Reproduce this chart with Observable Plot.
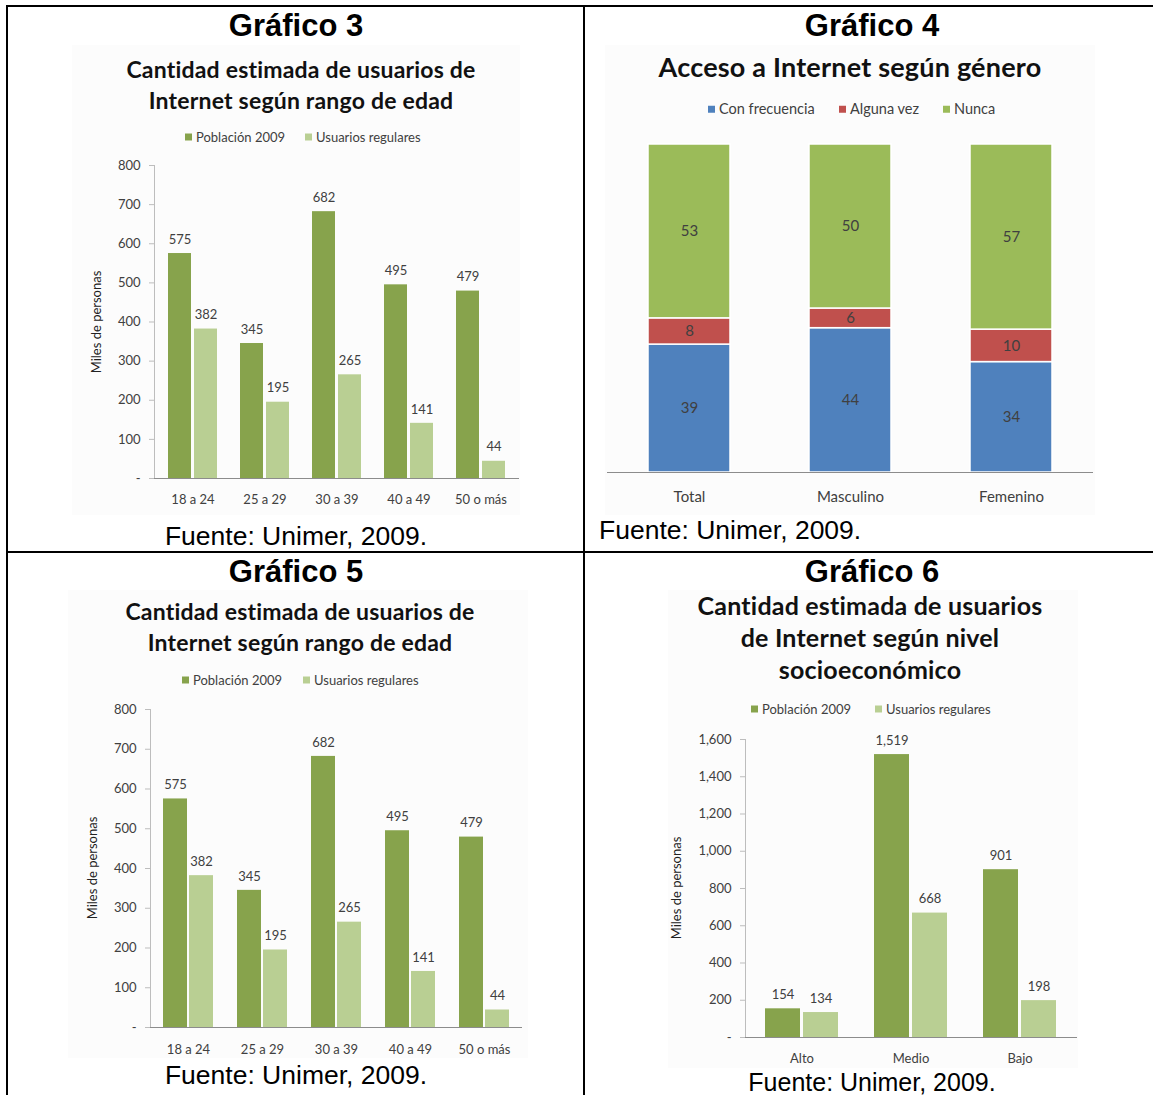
<!DOCTYPE html>
<html><head><meta charset="utf-8">
<script src="https://cdn.jsdelivr.net/npm/d3@7"></script>
<script src="https://cdn.jsdelivr.net/npm/@observablehq/plot@0.6"></script>
<style>
body{margin:0;background:#fff}
#root{position:relative;width:1153px;height:1095px;overflow:hidden;background:#fff}
.abs{position:absolute;white-space:nowrap;line-height:1}
.chart{position:absolute}
.chart svg{display:block;overflow:visible}
.chart svg text{fill:#404040}
.sq{display:inline-block;width:7px;height:7px;margin-right:4px;vertical-align:middle;position:relative;top:-1px}
</style></head><body><div id="root"></div>
<script>
// ---------- DATA ----------
const edades = ["18 a 24", "25 a 29", "30 a 39", "40 a 49", "50 o más"];
const poblacionEdad = [575, 345, 682, 495, 479];
const usuariosEdad = [382, 195, 265, 141, 44];
const ticksEdad = [0, 100, 200, 300, 400, 500, 600, 700, 800];

const generos = ["Total", "Masculino", "Femenino"];
const series4 = ["Con frecuencia", "Alguna vez", "Nunca"];
const conFrecuencia = [39, 44, 34];
const algunaVez = [8, 6, 10];
const nunca = [53, 50, 57];

const niveles = ["Alto", "Medio", "Bajo"];
const poblacionNivel = [154, 1519, 901];
const usuariosNivel = [134, 668, 198];
const ticksNivel = [0, 200, 400, 600, 800, 1000, 1200, 1400, 1600];

const seriesGrupo = ["Población 2009", "Usuarios regulares"];

// ---------- STYLE ----------
const DARK = "#87a34c", LIGHT = "#b9cf93";
const BLUE = "#4f81bd", RED = "#c0504d", GREEN = "#9bbb59";
const BG = "#fcfcfc";
const ARIAL = "'Liberation Sans', Arial, sans-serif";
const root = document.getElementById("root");
const fmtY = d => d === 0 ? "-" : d3.format(",")(d);

function box(x, y, w, h, bg) {
  const d = document.createElement("div");
  d.className = "abs";
  Object.assign(d.style, {left: x + "px", top: y + "px", width: w + "px", height: h + "px", background: bg});
  root.appendChild(d);
}
function txt(x, y, text, o = {}) {
  const d = document.createElement("div");
  d.className = "abs";
  d.textContent = text;
  Object.assign(d.style, {
    left: x + "px", top: y + "px",
    fontFamily: o.family || "Lato, sans-serif",
    fontSize: (o.size || 13) + "px",
    fontWeight: o.weight || "normal",
    color: o.color || "#111",
    letterSpacing: (o.ls || 0) + "px",
    transform: o.rotate ? "translate(-50%,-50%) rotate(-90deg)" : (o.anchor === "start" ? "translate(0,-50%)" : "translate(-50%,-50%)")
  });
  root.appendChild(d);
}
function legend(items, y, size) {
  for (const [x, color, label] of items) {
    const d = document.createElement("div");
    d.className = "abs";
    Object.assign(d.style, {left: (x - 4) + "px", top: y + "px", transform: "translate(0,-50%)", fontFamily: "Lato, sans-serif", fontSize: size + "px", color: "#404040"});
    d.innerHTML = `<span class="sq" style="background:${color}"></span>`;
    d.appendChild(document.createTextNode(label));
    root.appendChild(d);
  }
}
function place(svg, x, y) {
  const d = document.createElement("div");
  d.className = "chart";
  d.style.left = x + "px"; d.style.top = y + "px";
  d.appendChild(svg);
  root.appendChild(d);
}

// ---------- TABLE BORDERS ----------
box(6, 5, 1147, 2, "#000");
box(6, 5, 2, 1090, "#000");
box(583, 5, 2, 1090, "#000");
box(6, 551, 1147, 2, "#000");

// ---------- GROUPED BAR CHART ----------
function grouped({cats, pop, usr, ticks, max, width, height, mt, mb, ml, mr, pin, pout, inset, half, pad}) {
  const popRows = cats.map((c, i) => ({cat: c, value: pop[i]}));
  const usrRows = cats.map((c, i) => ({cat: c, value: usr[i]}));
  const f = d3.format(",");
  return Plot.plot({
    width, height, marginTop: mt, marginBottom: mb, marginLeft: ml, marginRight: mr,
    style: {background: "transparent", fontFamily: "Lato, sans-serif", fontSize: "13px", color: "#bdbdbd", overflow: "visible"},
    x: {domain: cats, paddingInner: pin, paddingOuter: pout, tickSize: 0, tickPadding: pad, label: null},
    y: {domain: [0, max], ticks, tickFormat: fmtY, tickSize: 5, tickPadding: 9, line: true, label: null},
    marks: [
      Plot.barY(popRows, {x: "cat", y: "value", fill: DARK, insetRight: inset}),
      Plot.barY(usrRows, {x: "cat", y: "value", fill: LIGHT, insetLeft: inset}),
      Plot.ruleY([0], {stroke: "#8c8c8c"}),
      Plot.text(popRows, {x: "cat", y: "value", text: d => f(d.value), dx: -half, dy: -14, fill: "#404040"}),
      Plot.text(usrRows, {x: "cat", y: "value", text: d => f(d.value), dx: half, dy: -14, fill: "#404040"})
    ]
  });
}

// ===== Gráfico 3 =====
box(72, 45, 448, 470, BG);
txt(296, 25, "Gráfico 3", {family: ARIAL, size: 31, weight: "bold", color: "#000"});
txt(301, 69, "Cantidad estimada de usuarios de", {size: 23, weight: "bold", ls: 0.2});
txt(301, 100, "Internet según rango de edad", {size: 23, weight: "bold", ls: 0.2});
legend([[189, DARK, seriesGrupo[0]], [309, LIGHT, seriesGrupo[1]]], 137, 13);
txt(96, 322, "Miles de personas", {size: 13, rotate: true, color: "#222"});
place(grouped({cats: edades, pop: poblacionEdad, usr: usuariosEdad, ticks: ticksEdad, max: 800,
  width: 448, height: 365, mt: 15, mb: 37, ml: 82, mr: 1, pin: 0.315, pout: 0.16, inset: 26, half: 13, pad: 16}), 72, 150);
txt(296, 536, "Fuente: Unimer, 2009.", {family: ARIAL, size: 26.5, color: "#000"});

// ===== Gráfico 4 =====
box(605, 45, 490, 470, BG);
txt(872, 25, "Gráfico 4", {family: ARIAL, size: 31, weight: "bold", color: "#000"});
txt(850, 66, "Acceso a Internet según género", {size: 27, weight: "bold", ls: 0.2});
legend([[712, BLUE, series4[0]], [843, RED, series4[1]], [947, GREEN, series4[2]]], 109, 14.5);
{
  const rows = [];
  generos.forEach((g, i) => {
    rows.push({cat: g, serie: series4[0], value: conFrecuencia[i]});
    rows.push({cat: g, serie: series4[1], value: algunaVez[i]});
    rows.push({cat: g, serie: series4[2], value: nunca[i]});
  });
  const svg = Plot.plot({
    width: 490, height: 385, marginTop: 14, marginBottom: 43, marginLeft: 2, marginRight: 2,
    style: {background: "transparent", fontFamily: "Lato, sans-serif", fontSize: "15px", color: "#888", overflow: "visible"},
    x: {domain: generos, paddingInner: 0.488, paddingOuter: 0.247, tickSize: 0, tickPadding: 19, label: null},
    y: {domain: [0, 1], axis: null},
    color: {domain: series4, range: [BLUE, RED, GREEN]},
    marks: [
      Plot.barY(rows, Plot.stackY({offset: "normalize", x: "cat", y: "value", fill: "serie", stroke: "#fff", strokeWidth: 1.5})),
      Plot.ruleY([0], {stroke: "#8c8c8c"}),
      Plot.text(rows, Plot.stackY({offset: "normalize", x: "cat", y: "value", z: "serie", text: d => String(d.value), fill: "#222", fontSize: 15}))
    ]
  });
  place(svg, 605, 130);
}
txt(599, 530, "Fuente: Unimer, 2009.", {family: ARIAL, size: 26.5, color: "#000", anchor: "start"});

// ===== Gráfico 5 =====
box(68, 590, 460, 468, BG);
txt(296, 571, "Gráfico 5", {family: ARIAL, size: 31, weight: "bold", color: "#000"});
txt(300, 611, "Cantidad estimada de usuarios de", {size: 23, weight: "bold", ls: 0.2});
txt(300, 642, "Internet según rango de edad", {size: 23, weight: "bold", ls: 0.2});
legend([[186, DARK, seriesGrupo[0]], [307, LIGHT, seriesGrupo[1]]], 680, 13);
txt(92, 868, "Miles de personas", {size: 13, rotate: true, color: "#222"});
place(grouped({cats: edades, pop: poblacionEdad, usr: usuariosEdad, ticks: ticksEdad, max: 800,
  width: 460, height: 368, mt: 19, mb: 31, ml: 82, mr: 6, pin: 0.327, pout: 0.175, inset: 26, half: 13, pad: 17}), 68, 690);
txt(296, 1075, "Fuente: Unimer, 2009.", {family: ARIAL, size: 26.5, color: "#000"});

// ===== Gráfico 6 =====
box(668, 590, 410, 478, BG);
txt(872, 571, "Gráfico 6", {family: ARIAL, size: 31, weight: "bold", color: "#000"});
txt(870, 605, "Cantidad estimada de usuarios", {size: 25, weight: "bold", ls: 0.2});
txt(870, 637, "de Internet según nivel", {size: 25, weight: "bold", ls: 0.2});
txt(870, 669, "socioeconómico", {size: 25, weight: "bold", ls: 0.2});
legend([[755, DARK, seriesGrupo[0]], [879, LIGHT, seriesGrupo[1]]], 709, 13);
txt(676, 888, "Miles de personas", {size: 13, rotate: true, color: "#222"});
place(grouped({cats: niveles, pop: poblacionNivel, usr: usuariosNivel, ticks: ticksNivel, max: 1600,
  width: 410, height: 348, mt: 19, mb: 31, ml: 77, mr: 1, pin: 0.327, pout: 0.18, inset: 38, half: 19, pad: 16}), 668, 720);
txt(872, 1082, "Fuente: Unimer, 2009.", {family: ARIAL, size: 25, color: "#000"});
</script></body></html>
